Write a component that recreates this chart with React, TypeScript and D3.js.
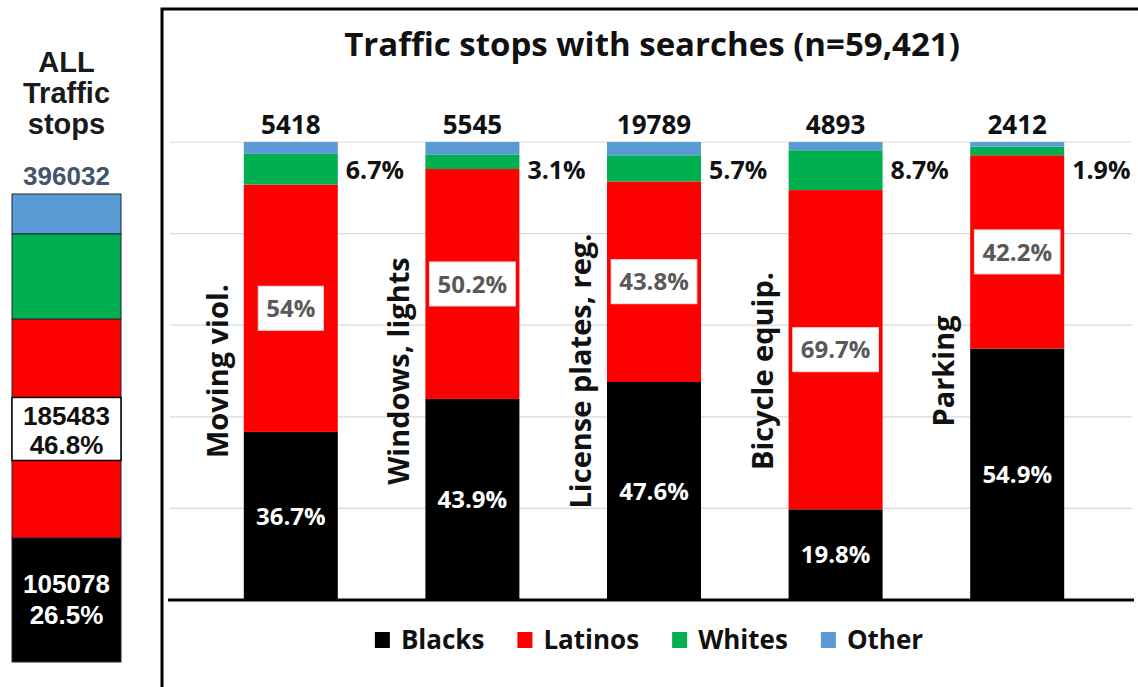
import React, { useEffect, useRef } from "react";
import * as d3 from "d3";

// ---- Data ----
const categories = ["Moving viol.", "Windows, lights", "License plates, reg.", "Bicycle equip.", "Parking"];
const searchCounts = [5418, 5545, 19789, 4893, 2412];
const blacksPct = [36.7, 43.9, 47.6, 19.8, 54.9];
const latinosPct = [54, 50.2, 43.8, 69.7, 42.2];
const whitesPct = [6.7, 3.1, 5.7, 8.7, 1.9];
const otherPct = [2.6, 2.8, 2.9, 1.8, 1.0];
const seriesNames = ["Blacks", "Latinos", "Whites", "Other"];
const seriesColors = ["#000000", "#ff0000", "#00b050", "#5b9bd5"];
const yTicks = [0, 20, 40, 60, 80, 100];

const allTotal = 396032;
const allCounts = [105078, 185483];
const allShares = [26.5, 46.8, 18.2, 8.5];
const titleText = "Traffic stops with searches (n=59,421)";
const leftTitle = ["ALL", "Traffic", "stops"];

const OPEN = "'Open Sans', sans-serif";
const ARIAL = "'Liberation Sans', Arial, sans-serif";

export default function App() {
  const ref = useRef<SVGSVGElement>(null);

  useEffect(() => {
    const svg = d3.select(ref.current);
    svg.selectAll("*").remove();

    svg.append("rect").attr("width", 1138).attr("height", 687).attr("fill", "#fff");

    // ---------- Left panel: all traffic stops ----------
    const left = svg.append("g");
    const yAll = d3.scaleLinear().domain([0, 100]).range([662, 194]);
    const allRow: any = {};
    seriesNames.forEach((k, i) => (allRow[k] = allShares[i]));
    const allStack = d3.stack<any>().keys(seriesNames)([allRow]);
    const lx = 12, lw = 109, lc = lx + lw / 2;

    left.selectAll("rect.seg")
      .data(allStack)
      .join("rect")
      .attr("class", "seg")
      .attr("x", lx)
      .attr("width", lw)
      .attr("y", (s: any) => yAll(s[0][1]))
      .attr("height", (s: any) => yAll(s[0][0]) - yAll(s[0][1]))
      .attr("fill", (_: any, i: number) => seriesColors[i])
      .attr("stroke", "#1c2733")
      .attr("stroke-width", 1);

    leftTitle.forEach((t, i) => {
      left.append("text")
        .attr("x", lc).attr("y", 72 + i * 31)
        .attr("text-anchor", "middle")
        .attr("font-family", ARIAL).attr("font-weight", 700).attr("font-size", 29)
        .attr("fill", "#1a1a1a")
        .text(t);
    });
    left.append("text")
      .attr("x", lc).attr("y", 185)
      .attr("text-anchor", "middle")
      .attr("font-family", ARIAL).attr("font-weight", 700).attr("font-size", 26)
      .attr("fill", "#44546a")
      .text(String(allTotal));

    // Latinos box
    const latMid = (yAll(allStack[1][0][0]) + yAll(allStack[1][0][1])) / 2;
    left.append("rect")
      .attr("x", lx).attr("width", lw)
      .attr("y", latMid - 31).attr("height", 63)
      .attr("fill", "#fff").attr("stroke", "#000").attr("stroke-width", 1.5);
    [String(allCounts[1]), allShares[1] + "%"].forEach((t, i) => {
      left.append("text")
        .attr("x", lc).attr("y", latMid - 3 + i * 29)
        .attr("text-anchor", "middle")
        .attr("font-family", ARIAL).attr("font-weight", 700).attr("font-size", 26)
        .attr("fill", "#111")
        .text(t);
    });
    const blkMid = (yAll(allStack[0][0][0]) + yAll(allStack[0][0][1])) / 2;
    [String(allCounts[0]), allShares[0] + "%"].forEach((t, i) => {
      left.append("text")
        .attr("x", lc).attr("y", blkMid - 7 + i * 31)
        .attr("text-anchor", "middle")
        .attr("font-family", ARIAL).attr("font-weight", 700).attr("font-size", 26)
        .attr("fill", "#fff")
        .text(t);
    });

    // ---------- Main panel ----------
    const main = svg.append("g");
    main.append("path")
      .attr("d", "M162,690 V9 H1140")
      .attr("fill", "none").attr("stroke", "#000").attr("stroke-width", 3);

    main.append("text")
      .attr("x", 652).attr("y", 56)
      .attr("text-anchor", "middle")
      .attr("font-family", OPEN).attr("font-weight", 700).attr("font-size", 33)
      .attr("fill", "#111")
      .text(titleText);

    const y = d3.scaleLinear().domain([0, 100]).range([600, 142]);
    const x = d3.scaleBand<string>().domain(categories).range([200, 1108])
      .paddingInner(0.4824).paddingOuter(0.2412);
    const bw = x.bandwidth();

    main.selectAll("line.grid")
      .data(yTicks.filter((t) => t > 0))
      .join("line")
      .attr("class", "grid")
      .attr("x1", 170).attr("x2", 1132)
      .attr("y1", (d) => y(d)).attr("y2", (d) => y(d))
      .attr("stroke", "#d9d9d9").attr("stroke-width", 1.2);

    const rows = categories.map((c, i) => ({
      cat: c,
      Blacks: blacksPct[i],
      Latinos: latinosPct[i],
      Whites: whitesPct[i],
      Other: otherPct[i],
    }));
    const stacked = d3.stack<any>().keys(seriesNames)(rows);

    main.selectAll("g.series")
      .data(stacked)
      .join("g")
      .attr("class", "series")
      .attr("fill", (_: any, i: number) => seriesColors[i])
      .selectAll("rect")
      .data((s: any) => s)
      .join("rect")
      .attr("x", (d: any) => x(d.data.cat)!)
      .attr("width", bw)
      .attr("y", (d: any) => y(d[1]))
      .attr("height", (d: any) => y(d[0]) - y(d[1]));

    main.append("line")
      .attr("x1", 168).attr("x2", 1134)
      .attr("y1", y(0)).attr("y2", y(0))
      .attr("stroke", "#000").attr("stroke-width", 3);

    categories.forEach((c, i) => {
      // counts on top
      main.append("text")
        .attr("x", x(c)! + bw / 2).attr("y", 134)
        .attr("text-anchor", "middle")
        .attr("font-family", OPEN).attr("font-weight", 700).attr("font-size", 26)
        .attr("fill", "#111")
        .text(String(searchCounts[i]));
      // whites pct to the right
      main.append("text")
        .attr("x", x(c)! + bw + 8).attr("y", 179)
        .attr("font-family", OPEN).attr("font-weight", 700).attr("font-size", 25)
        .attr("fill", "#111")
        .text(whitesPct[i] + "%");
      // category label, rotated
      main.append("text")
        .attr("transform", `translate(${x(c)! - 16},${y(50)}) rotate(-90)`)
        .attr("text-anchor", "middle")
        .attr("font-family", OPEN).attr("font-weight", 700).attr("font-size", 29)
        .attr("fill", "#111")
        .text(c);
    });

    // latinos labels in white boxes
    stacked[1].forEach((d: any, i: number) => {
      const cx = x(d.data.cat)! + bw / 2;
      const cy = (y(d[0]) + y(d[1])) / 2;
      const g = main.append("g");
      const box = g.append("rect").attr("fill", "#fff").attr("stroke", "#e6e6e6").attr("stroke-width", 1);
      const t = g.append("text")
        .attr("x", cx).attr("y", cy).attr("dy", "0.36em")
        .attr("text-anchor", "middle")
        .attr("font-family", OPEN).attr("font-weight", 700).attr("font-size", 24)
        .attr("fill", "#595959")
        .text(latinosPct[i] + "%");
      const tw = (t.node() as SVGTextElement).getComputedTextLength();
      const w = Math.min(bw, tw + 16);
      box.attr("x", cx - w / 2).attr("width", w).attr("y", cy - 22).attr("height", 44);
    });

    // blacks labels
    stacked[0].forEach((d: any, i: number) => {
      const cx = x(d.data.cat)! + bw / 2;
      const cy = (y(d[0]) + y(d[1])) / 2;
      main.append("text")
        .attr("x", cx).attr("y", cy).attr("dy", "0.36em")
        .attr("text-anchor", "middle")
        .attr("font-family", OPEN).attr("font-weight", 700).attr("font-size", 24)
        .attr("fill", "#fff")
        .text(blacksPct[i] + "%");
    });

    // legend
    const lg = main.append("g");
    let cur = 0;
    seriesNames.forEach((name, i) => {
      const it = lg.append("g");
      it.append("rect").attr("x", cur).attr("y", 632).attr("width", 15).attr("height", 16).attr("fill", seriesColors[i]);
      const t = it.append("text")
        .attr("x", cur + 26).attr("y", 649)
        .attr("font-family", OPEN).attr("font-weight", 700).attr("font-size", 26)
        .attr("fill", "#111")
        .text(name);
      const tw = (t.node() as SVGTextElement).getComputedTextLength();
      cur += 26 + tw + (i < seriesNames.length - 1 ? 33 : 0);
    });
    lg.attr("transform", `translate(${649 - cur / 2},0)`);
  }, []);

  return (
    <svg
      ref={ref}
      width={1138}
      height={687}
      style={{ position: "absolute", left: 0, top: 0, display: "block" }}
    />
  );
}
